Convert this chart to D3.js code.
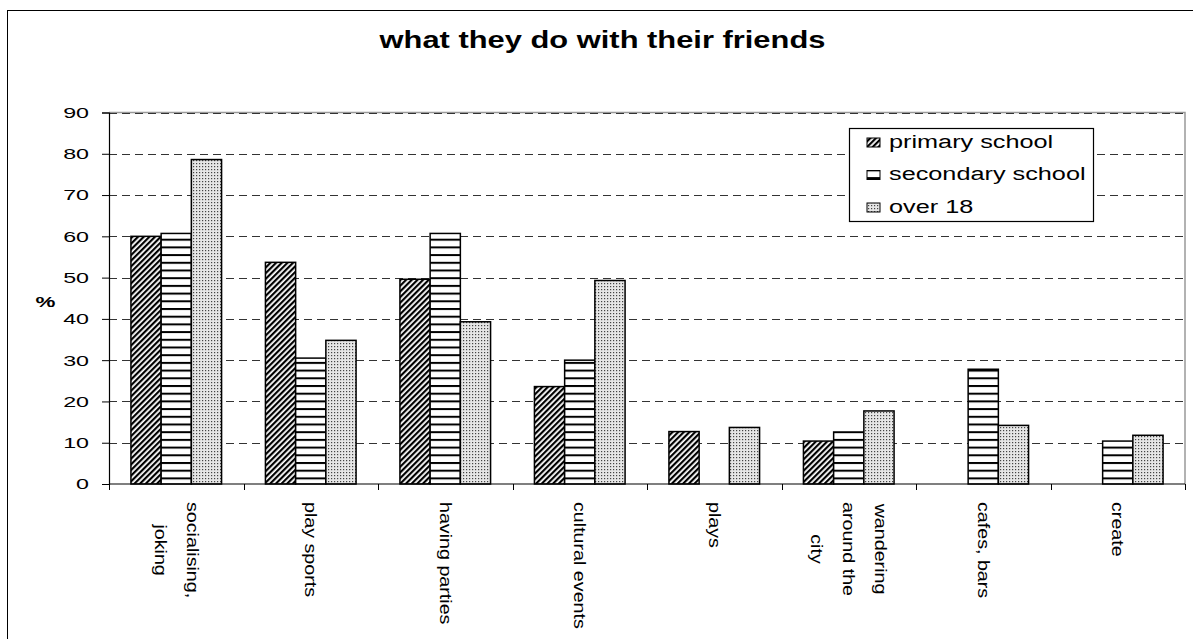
<!DOCTYPE html>
<html>
<head>
<meta charset="utf-8">
<script src="https://cdn.jsdelivr.net/npm/d3@7"></script>
<style>
  html, body { margin: 0; padding: 0; background: #fff; }
  svg { display: block; font-family: "Liberation Sans", Arial, sans-serif; }
</style>
</head>
<body>
<svg id="chart" width="1193" height="639"></svg>
<script>
// ---------- data ----------
const title = "what they do with their friends";
const yAxisTitle = "%";
const categories = ["socialising, joking", "play sports", "having parties", "cultural events", "plays", "wandering around the city", "cafes, bars", "create"];
const categoryLines = [["socialising,", "joking"], ["play sports"], ["having parties"], ["cultural events"], ["plays"], ["wandering", "around the", "city"], ["cafes, bars"], ["create"]];
const seriesNames = ["primary school", "secondary school", "over 18"];
const primarySchool   = [60.0, 53.7, 49.6, 23.6, 12.7, 10.4, 0, 0];
const secondarySchool = [60.7, 30.5, 60.7, 30.0, 0, 12.6, 27.8, 10.4];
const over18          = [78.6, 34.8, 39.3, 49.3, 13.7, 17.7, 14.2, 11.8];
const yTicks = [0, 10, 20, 30, 40, 50, 60, 70, 80, 90];

const seriesValues = [primarySchool, secondarySchool, over18];
const seriesFill = ["url(#hatch)", "url(#hlines)", "url(#dots)"];

// ---------- layout ----------
const W = 1193, H = 639;
const plot = { left: 109, right: 1185, top: 112.5, bottom: 484 };

const svg = d3.select("#chart");

// patterns
const defs = svg.append("defs");
const hatch = defs.append("pattern").attr("id", "hatch")
  .attr("patternUnits", "userSpaceOnUse").attr("width", 4).attr("height", 4)
  .attr("patternTransform", "rotate(45)");
hatch.append("rect").attr("width", 4).attr("height", 4).attr("fill", "#fff");
hatch.append("rect").attr("x", 0).attr("y", 0).attr("width", 2.2).attr("height", 4).attr("fill", "#000");

const hl = defs.append("pattern").attr("id", "hlines")
  .attr("patternUnits", "userSpaceOnUse").attr("width", 8).attr("height", 7.7);
hl.append("rect").attr("width", 8).attr("height", 7.7).attr("fill", "#fff");
hl.append("rect").attr("x", 0).attr("y", 0).attr("width", 8).attr("height", 2).attr("fill", "#000");

const dots = defs.append("pattern").attr("id", "dots")
  .attr("patternUnits", "userSpaceOnUse").attr("width", 3).attr("height", 3);
dots.append("rect").attr("width", 3).attr("height", 3).attr("fill", "#e6e6e6");
dots.append("rect").attr("x", 1).attr("y", 1).attr("width", 1.2).attr("height", 1.2).attr("fill", "#444");

// outer frame
svg.append("rect").attr("x", 7.5).attr("y", 10.5).attr("width", 1300).attr("height", 800)
  .attr("fill", "#fff").attr("stroke", "#000").attr("stroke-width", 1);

// scales
const y = d3.scaleLinear().domain([0, 90]).range([plot.bottom, plot.top]);
const pIn = 0.326;
const x0 = d3.scaleBand().domain(categories).range([plot.left, plot.right])
  .paddingInner(pIn).paddingOuter(pIn / 2);
const x1 = d3.scaleBand().domain(seriesNames).range([0, x0.bandwidth()]);

// plot area border (grey)
svg.append("path")
  .attr("d", `M${plot.left},${plot.top}H${plot.right}V${plot.bottom}`)
  .attr("fill", "none").attr("stroke", "#999").attr("stroke-width", 1.5);

// gridlines
svg.append("g").selectAll("line").data(yTicks.filter(d => d > 0)).join("line")
  .attr("x1", plot.left).attr("x2", plot.right)
  .attr("y1", d => Math.round(y(d)) + 0.5).attr("y2", d => Math.round(y(d)) + 0.5)
  .attr("stroke", "#333").attr("stroke-width", 1).attr("stroke-dasharray", "8,5");

// bars
const barG = svg.append("g");
categories.forEach((c, ci) => {
  seriesNames.forEach((s, si) => {
    const v = seriesValues[si][ci];
    if (!v) return;
    barG.append("rect")
      .attr("x", x0(c) + x1(s))
      .attr("y", y(v))
      .attr("width", x1.bandwidth())
      .attr("height", y(0) - y(v))
      .attr("fill", seriesFill[si])
      .attr("stroke", "#000").attr("stroke-width", 1.5);
  });
});

// y axis
const yAxis = d3.axisLeft(y).tickValues(yTicks).tickSize(7).tickFormat("");
const yAx = svg.append("g").attr("transform", `translate(${plot.left},0)`).call(yAxis);
yAx.select(".domain").attr("stroke", "#000").attr("stroke-width", 1.2);
yAx.selectAll(".tick line").attr("stroke", "#000");

// y tick labels (horizontally stretched like the source)
const yLab = svg.append("g");
yTicks.forEach(t => {
  yLab.append("text")
    .attr("transform", `translate(89,${y(t)}) scale(1.55,1)`)
    .attr("text-anchor", "end").attr("dy", "0.36em")
    .attr("font-size", 15).attr("fill", "#000")
    .text(t);
});

// y axis title
svg.append("text")
  .attr("transform", `translate(45.5,302) scale(1.6,1)`)
  .attr("text-anchor", "middle").attr("dy", "0.36em")
  .attr("font-size", 14).attr("font-weight", "bold").text(yAxisTitle);

// x axis
const step = x0.step();
const xAx = svg.append("g");
xAx.append("line").attr("x1", plot.left).attr("x2", plot.right)
  .attr("y1", plot.bottom).attr("y2", plot.bottom).attr("stroke", "#000").attr("stroke-width", 1.2);
xAx.selectAll(".xt").data(d3.range(categories.length + 1)).join("line").attr("class", "xt")
  .attr("x1", i => Math.round(plot.left + i * step) + 0.5)
  .attr("x2", i => Math.round(plot.left + i * step) + 0.5)
  .attr("y1", plot.bottom).attr("y2", plot.bottom + 6)
  .attr("stroke", "#000");

// x labels (rotated 90deg, lines centered)
const lineGap = 32, xStretch = 1.23, xFont = 16, labTop = 502;
categories.forEach((c, ci) => {
  const lines = categoryLines[ci];
  const cx = x0(c) + x0.bandwidth() / 2;
  const g = svg.append("g")
    .attr("transform", `translate(${cx},${labTop}) rotate(90) scale(${xStretch},1)`);
  const texts = lines.map((ln, li) => g.append("text")
    .attr("y", (li - (lines.length - 1) / 2) * lineGap)
    .attr("dy", "0.33em")
    .attr("font-size", xFont).attr("text-anchor", "middle").text(ln));
  const maxLen = d3.max(texts, t => t.node().getComputedTextLength());
  texts.forEach(t => t.attr("x", maxLen / 2));
});

// title
svg.append("text")
  .attr("transform", `translate(602.5,47.5) scale(1.26,1)`)
  .attr("text-anchor", "middle").attr("font-size", 24.5).attr("font-weight", "bold")
  .text(title);

// legend
const leg = svg.append("g");
leg.append("rect").attr("x", 849.5).attr("y", 128.5).attr("width", 244).attr("height", 93)
  .attr("fill", "#fff").attr("stroke", "#000").attr("stroke-width", 1.2);
const legBase = [147.5, 180, 212.5];
seriesNames.forEach((s, i) => {
  leg.append("rect").attr("x", 867).attr("y", legBase[i] - 9.5).attr("width", 13).attr("height", 9)
    .attr("fill", seriesFill[i]).attr("stroke", "#000").attr("stroke-width", 1);
  leg.append("text")
    .attr("transform", `translate(889,${legBase[i]}) scale(1.33,1)`)
    .attr("font-size", 19).text(s);
});
</script>
</body>
</html>
